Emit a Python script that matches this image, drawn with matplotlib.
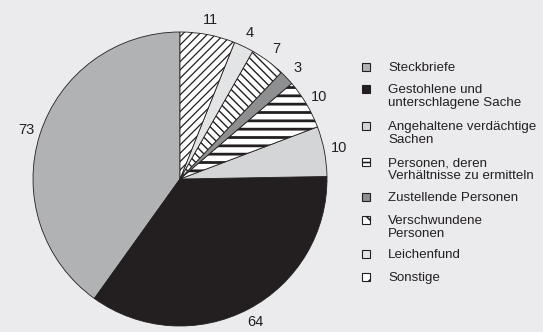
import matplotlib
matplotlib.use("Agg")
import matplotlib.pyplot as plt
from matplotlib.patches import Rectangle

# Categories in drawing order (counter-clockwise from 12 o'clock)
categories = [
    "Steckbriefe",
    "Gestohlene und\nunterschlagene Sache",
    "Angehaltene verdächtige\nSachen",
    "Personen, deren\nVerhältnisse zu ermitteln",
    "Zustellende Personen",
    "Verschwundene\nPersonen",
    "Leichenfund",
    "Sonstige",
]
counts = [73, 64, 10, 10, 3, 7, 4, 11]

face_colors = ["#b1b2b4", "#231f20", "#d4d5d7", "#ffffff",
               "#8e8f91", "#ffffff", "#e3e4e6", "#ffffff"]
hatches = [None, None, None, "--", None, "\\\\\\\\", None, "////"]
hatch_widths = [1.0, 1.0, 1.0, 2.0, 1.0, 1.0, 1.0, 0.9]
legend_hatches = [None, None, None, "--", None, "\\\\", None, "//"]

bg = "#ebebed"
ink = "#231f20"

plt.rcParams["font.family"] = ["Liberation Sans", "DejaVu Sans"]

fig = plt.figure(figsize=(5.43, 3.32), dpi=100, facecolor=bg)
W, H = 543, 332
cx, cy, r = 180, 179, 147
ax = fig.add_axes([(cx - r) / W, (H - cy - r) / H, 2 * r / W, 2 * r / H])
ax.set_facecolor(bg)

wedges, texts = ax.pie(
    counts,
    labels=[str(c) for c in counts],
    startangle=90,
    counterclock=True,
    colors=face_colors,
    labeldistance=1.1,
    wedgeprops=dict(edgecolor=ink, linewidth=0.6),
    textprops=dict(fontsize=10.5, color=ink),
)
for w, h, hw in zip(wedges, hatches, hatch_widths):
    if h:
        w.set_hatch(h)
        if hasattr(w, "set_hatch_linewidth"):
            w.set_hatch_linewidth(hw)
for t in texts:
    t.set_horizontalalignment("center")
    t.set_verticalalignment("center")
ax.set_xlim(-1, 1)
ax.set_ylim(-1, 1)
ax.set_aspect("equal")
ax.axis("off")

# Legend: small boxes with labels, first text line centred on each box
row_y = [67, 89, 126, 162, 197, 220, 254, 277]
box_x, text_x, box = 362, 388, 8
for y, lab, fc, lh in zip(row_y, categories, face_colors, legend_hatches):
    rect = Rectangle((box_x / W, (H - y - box / 2) / H), box / W, box / H,
                     transform=fig.transFigure, facecolor=fc, edgecolor=ink,
                     linewidth=0.8, hatch=lh)
    if lh and hasattr(rect, "set_hatch_linewidth"):
        rect.set_hatch_linewidth(1.2)
    fig.add_artist(rect)
    fig.text(text_x / W, (H - y + 5) / H, lab, ha="left", va="top",
             fontsize=9.6, color=ink, linespacing=1.1)

fig.savefig("out.png", dpi=100, facecolor=bg)
